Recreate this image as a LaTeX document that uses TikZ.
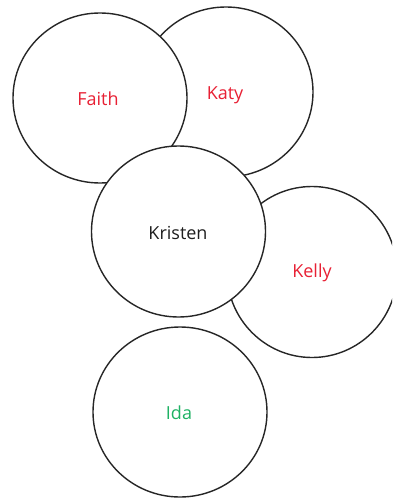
\documentclass[tikz,border=0pt]{standalone}
\usepackage{fontspec}
\setmainfont{Open Sans}
\definecolor{namered}{RGB}{232,32,52}
\definecolor{namegreen}{RGB}{30,178,100}
\definecolor{nameblack}{RGB}{30,30,30}
\begin{document}
\begin{tikzpicture}[x=1pt,y=-1pt,
  person/.style={draw=black!85,line width=1.4pt,fill=white},
  lbl/.style={font=\fontsize{18}{21}\selectfont}]
\useasboundingbox (0,0) rectangle (392,500);
\clip (0,0) rectangle (392,500);
\draw[person] (226,92) ellipse [x radius=87,y radius=85];
\node[lbl,text=namered] (katy) at (225,95) {Katy};
\draw[person] (100,98) ellipse [x radius=87,y radius=85];
\node[lbl,text=namered] (faith) at (98,99) {Faith};
\draw[person] (312,272) ellipse [x radius=85,y radius=85.5];
\node[lbl,text=namered] (kelly) at (312,273) {Kelly};
\draw[person] (178.5,231.5) ellipse [x radius=87,y radius=85.5];
\node[lbl,text=nameblack] (kristen) at (178,233) {Kristen};
\draw[person] (180,412) ellipse [x radius=87,y radius=85];
\node[lbl,text=namegreen] (ida) at (179,413) {Ida};
\end{tikzpicture}
\end{document}
